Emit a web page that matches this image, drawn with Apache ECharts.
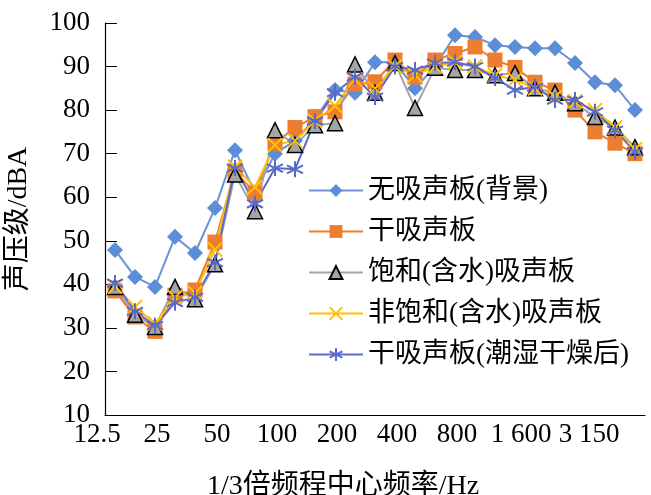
<!DOCTYPE html>
<html>
<head>
<meta charset="utf-8">
<script src="https://cdn.jsdelivr.net/npm/echarts@6/dist/echarts.min.js"></script>
<style>html,body{margin:0;padding:0;background:#fff}#c{width:651px;height:495px}</style>
</head>
<body>
<div id="c"></div>
<script>
const categories = ['12.5','16','20','25','31.5','40','50','63','80','100','125','160','200','250','315','400','500','630','800','1 000','1 250','1 600','2 000','2 500','3 150','4 000','5 000'];
const noBoard   = [47.9,41.7,39.4,50.9,47.2,57.5,70.8,61,70,73,78,84.6,84,91,91,85,90,97.2,96.8,94.9,94.5,94.2,94.2,90.8,86.4,85.7,80];
const dryBoard  = [38.5,32.5,29.2,37.5,38.7,49.7,66,61,72.4,76,78.5,79.6,86,86.5,91.5,87.6,91.5,93,94.5,91.5,89.8,86.4,84.6,80,75,72.4,70];
const satBoard  = [39.4,33,30.2,39.4,36.6,44.6,65.2,56.8,75.4,72,76.5,77,90.5,84,90.8,80.5,89.7,89.2,89.2,88,88.5,85,84,81.6,78.4,76,71.5];
const unsatBoard= [39.5,34.8,31,37,38,48,67,62.3,72,73,77.5,81,87,85,90,88,90,91,90,88,87,85,83,82,80,76,71];
const dryWetDry = [40.3,33.8,30.5,35.8,37,45,66.7,58.5,66.7,66.4,77.5,84,87.6,83,90,89.2,90.8,91,90,87.4,84.6,85.3,82.3,82.3,79.6,75.4,70.4];
const seriesNames = ['无吸声板(背景)','干吸声板','饱和(含水)吸声板','非饱和(含水)吸声板','干吸声板(潮湿干燥后)'];
const yTicks = {min:10, max:100, interval:10};

const serif = "'Liberation Serif','Noto Sans CJK SC',serif";
const chart = echarts.init(document.getElementById('c'), null, {renderer:'canvas'});
const xSym = 'path://M0,0L20,20M20,0L0,20';
const starSym = 'path://M10,0L10,20M1.34,5L18.66,15M1.34,15L18.66,5';

chart.setOption({
  animation:false,
  backgroundColor:'#fff',
  grid:{left:105, right:6, top:23, bottom:80, containLabel:false, outerBoundsMode:'none'},
  legend:{
    orient:'vertical', left:303, top:172, itemWidth:54, itemHeight:16, itemGap:14,
    textStyle:{fontFamily:serif, fontSize:27, color:'#000'},
    data:seriesNames
  },
  xAxis:{
    type:'category', data:categories, boundaryGap:true,
    name:'1/3倍频程中心频率/Hz', nameLocation:'middle', nameGap:58,
    nameTextStyle:{fontFamily:serif, fontSize:28, color:'#000', padding:[0,64,0,0]},
    axisLine:{lineStyle:{color:'#000', width:1.2}},
    axisTick:{inside:true, length:10, interval:0, lineStyle:{color:'#000'}},
    axisLabel:{
      interval:2, margin:6, color:'#000', fontFamily:serif, fontSize:27,
      formatter:function(v, i){
        if (v === '1 600') return '{b|' + v + '}';
        if (v === '3 150') return '{c|' + v + '}';
        return '{a|' + v + '}';
      },
      rich:{
        a:{fontFamily:serif, fontSize:27, color:'#000', padding:[0,36,0,0]},
        b:{fontFamily:serif, fontSize:27, color:'#000', padding:[0,28,0,0]},
        c:{fontFamily:serif, fontSize:27, color:'#000', padding:[0,12,0,0]}
      }
    },
    splitLine:{show:false}
  },
  yAxis:{
    type:'value', min:yTicks.min, max:yTicks.max, interval:yTicks.interval,
    name:'声压级/dBA', nameLocation:'middle', nameGap:72, nameRotate:90,
    nameTextStyle:{fontFamily:serif, fontSize:28, color:'#000'},
    axisLine:{show:true, lineStyle:{color:'#000', width:1.2}},
    axisTick:{show:true, inside:true, length:12, lineStyle:{color:'#000'}},
    axisLabel:{margin:15, color:'#000', fontFamily:serif, fontSize:27},
    splitLine:{show:false}
  },
  series:[
    {name:seriesNames[0], type:'line', data:noBoard, symbol:'diamond', symbolSize:16, showAllSymbol:true,
     itemStyle:{color:'#5B8ED6'}, lineStyle:{color:'#6A92D4', width:2}},
    {name:seriesNames[1], type:'line', data:dryBoard, symbol:'rect', symbolSize:15, showAllSymbol:true,
     itemStyle:{color:'#ED7D31'}, lineStyle:{color:'#ED7D31', width:2}},
    {name:seriesNames[2], type:'line', data:satBoard, symbol:'triangle', symbolSize:15, showAllSymbol:true,
     itemStyle:{color:'#A5A5A5', borderColor:'#000', borderWidth:1.5}, lineStyle:{color:'#A5A5A5', width:2}},
    {name:seriesNames[3], type:'line', data:unsatBoard, symbol:xSym, symbolSize:14, showAllSymbol:true,
     itemStyle:{color:'#FFC000', borderColor:'#FFC000', borderWidth:2}, lineStyle:{color:'#FFC000', width:2}},
    {name:seriesNames[4], type:'line', data:dryWetDry, symbol:starSym, symbolSize:16, showAllSymbol:true,
     itemStyle:{color:'#5A6AC8', borderColor:'#5A6AC8', borderWidth:2}, lineStyle:{color:'#5A6AC8', width:2}}
  ]
});
</script>
</body>
</html>
